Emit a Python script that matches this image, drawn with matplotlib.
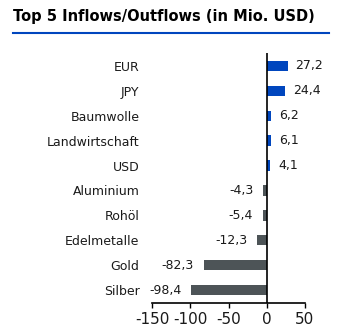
import matplotlib
matplotlib.use("Agg")
import matplotlib.pyplot as plt

categories = ["EUR", "JPY", "Baumwolle", "Landwirtschaft", "USD",
              "Aluminium", "Rohöl", "Edelmetalle", "Gold", "Silber"]
values = [27.2, 24.4, 6.2, 6.1, 4.1, -4.3, -5.4, -12.3, -82.3, -98.4]
xticks = [-150, -100, -50, 0, 50]

BLUE = "#0046BE"
GREY = "#4D5457"
TXT = "#1a1a1a"

fig = plt.figure(figsize=(3.5, 3.32), dpi=100)
ax = fig.add_axes([152/350, 1-303/332, (305-152)/350, (303-53)/332])

ypos = list(range(len(categories)))
colors = [BLUE if v > 0 else GREY for v in values]
ax.barh(ypos, values, height=0.42, color=colors)
ax.set_xlim(-150, 50)
ax.set_ylim(len(categories) - 0.48, -0.52)
ax.axvline(0, color="black", lw=1.2)

for y, v in zip(ypos, values):
    lab = f"{v:.1f}".replace(".", ",")
    if v > 0:
        ax.annotate(lab, (v, y), xytext=(8, 0), textcoords="offset pixels",
                    ha="left", va="center", fontsize=9, color=TXT)
    else:
        ax.annotate(lab, (v, y), xytext=(-10, 0), textcoords="offset pixels",
                    ha="right", va="center", fontsize=9, color=TXT)

ax.set_yticks(ypos)
ax.set_yticklabels(categories, fontsize=9, color=TXT)
ax.tick_params(axis="y", length=0, pad=9)
ax.set_xticks(xticks)
ax.set_xticklabels([str(t) for t in xticks], fontsize=11, color=TXT)
ax.tick_params(axis="x", length=3.5, width=1, pad=3)
for s in ["top", "right", "left"]:
    ax.spines[s].set_visible(False)
ax.spines["bottom"].set_linewidth(1.2)

fig.text(13/350, 1-17/332, "Top 5 Inflows/Outflows (in Mio. USD)", fontsize=10.5,
         fontweight="bold", ha="left", va="center", color="black")
fig.add_artist(plt.Line2D([13/350, 329/350], [1-32.5/332, 1-32.5/332],
                          color=BLUE, lw=1.5))

fig.savefig("out.png", dpi=100)
